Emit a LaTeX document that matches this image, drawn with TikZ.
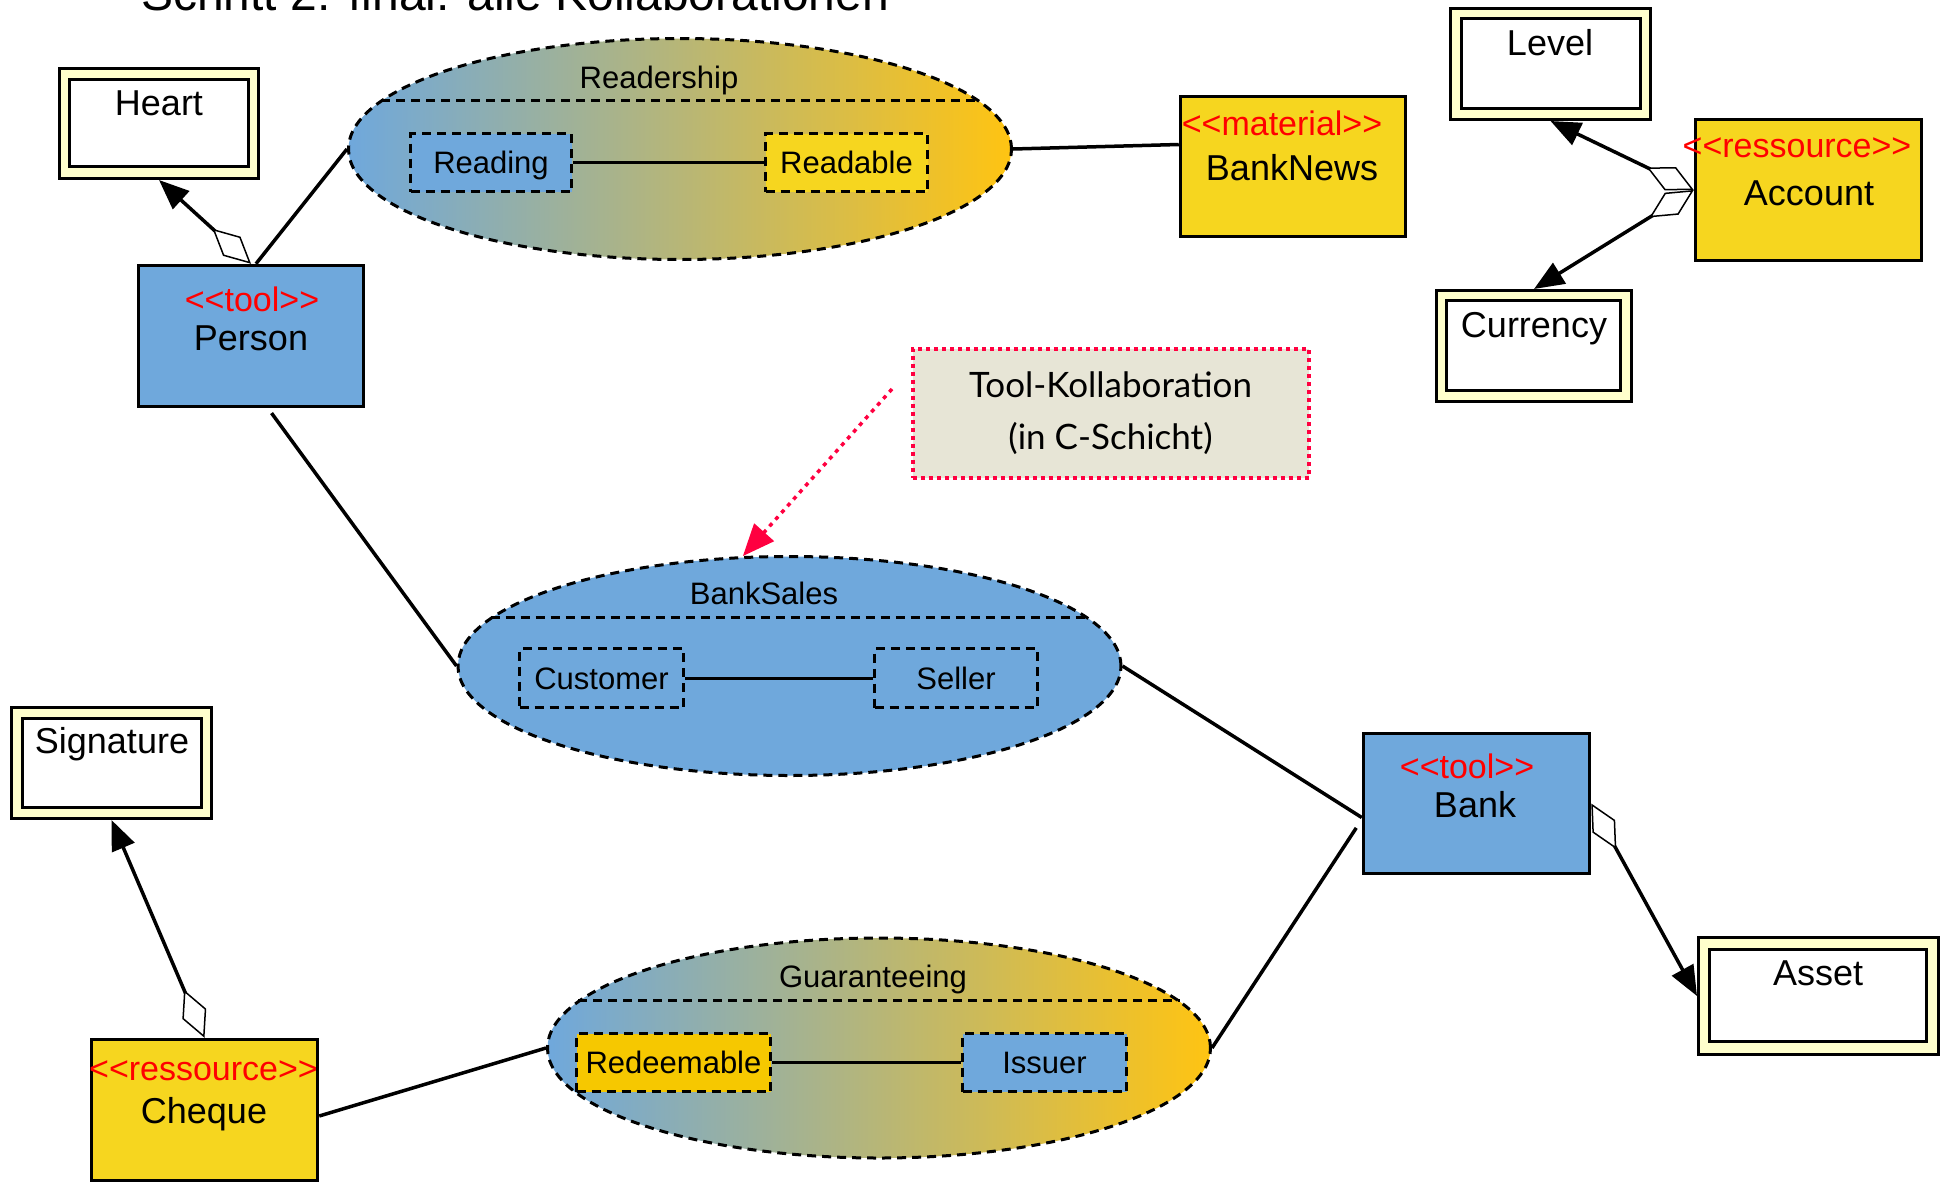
\documentclass[tikz,border=0pt]{standalone}
\usepackage{fontspec}
\setmainfont{Liberation Sans}[Ligatures=TeXOff]
\newfontfamily\notefont{Lato}
\usetikzlibrary{shapes.geometric,arrows.meta,calc}
\definecolor{toolblue}{RGB}{111,168,220}
\definecolor{resyellow}{RGB}{246,214,31}
\definecolor{roleyellow}{RGB}{246,200,0}
\definecolor{gradend}{RGB}{255,196,18}
\definecolor{attrback}{RGB}{255,255,204}
\definecolor{notebg}{RGB}{231,229,214}
\definecolor{notered}{RGB}{255,0,64}
\begin{document}
\begin{tikzpicture}[x=1pt,y=-1pt,
  classbox/.style={draw=black, line width=3.5pt, rectangle, inner sep=0pt},
  toolbox/.style={classbox, fill=toolblue},
  resbox/.style={classbox, fill=resyellow},
  stereo/.style={anchor=base, inner sep=0pt, text=red, font=\fontsize{34pt}{38pt}\selectfont},
  cname/.style={anchor=base, inner sep=0pt, font=\fontsize{36pt}{40pt}\selectfont},
  attrouter/.style={draw=black, line width=3pt, fill=attrback, rectangle, inner sep=0pt},
  attrinner/.style={draw=black, line width=3pt, fill=white, rectangle, inner sep=0pt},
  collab/.style={ellipse, draw=black, line width=3pt, dash pattern=on 9pt off 6pt, inner sep=0pt},
  gradcollab/.style={collab, left color=toolblue, right color=gradend},
  collabname/.style={anchor=base, inner sep=0pt, font=\fontsize{31pt}{35pt}\selectfont},
  role/.style={draw=black, line width=3pt, dash pattern=on 9pt off 6pt, rectangle, inner sep=0pt, text height=22pt, text depth=0pt, font=\fontsize{31pt}{35pt}\selectfont},
  partition/.style={draw=black, line width=3pt, dash pattern=on 9pt off 6pt},
  conn/.style={draw=black, line width=3.5pt},
  agg/.style={conn, {Diamond[length=52pt,width=26pt,fill=white,line width=1.5pt]}-{Triangle[length=30pt,width=24pt]}},
]
\path[use as bounding box] (0,0) rectangle (1949,1192);
\clip (0,0) rectangle (1949,1192);

% title (cut off at top)
\node[anchor=base west, inner sep=0pt, font=\fontsize{48pt}{52pt}\selectfont] (title) at (141,10) {Schritt 2: final: alle Kollaborationen};

% collaboration ellipses
\node[gradcollab, minimum width=663pt, minimum height=221pt] (readership) at (680,149) {};
\draw[partition] ($(readership.center)+(-299,-49)$) -- ++(598,0);
\node[collabname] (readership-nm) at (659,88) {Readership};
\node[role, fill=toolblue, minimum width=161pt, minimum height=58pt] (reading) at (491,162.5) {Reading};
\node[role, fill=resyellow, minimum width=162pt, minimum height=58pt] (readable) at (846.5,162.5) {Readable};
\draw[conn, line width=3pt] (reading.east) -- (readable.west);

\node[collab, fill=toolblue, minimum width=663pt, minimum height=219pt] (banksales) at (789.5,666) {};
\draw[partition] ($(banksales.center)+(-299,-49)$) -- ++(598,0);
\node[collabname] (banksales-nm) at (764,604) {BankSales};
\node[role, minimum width=164pt, minimum height=59pt] (customer) at (601.5,678) {Customer};
\node[role, minimum width=163pt, minimum height=59pt] (seller) at (956,678) {Seller};
\draw[conn, line width=3pt] (customer.east) -- (seller.west);

\node[gradcollab, minimum width=663pt, minimum height=220pt] (guaranteeing) at (879,1048) {};
\draw[partition] ($(guaranteeing.center)+(-301,-48)$) -- ++(602,0);
\node[collabname] (guaranteeing-nm) at (873,987) {Guaranteeing};
\node[role, fill=roleyellow, minimum width=194pt, minimum height=58pt] (redeemable) at (673.5,1062.5) {Redeemable};
\node[role, fill=toolblue, minimum width=164pt, minimum height=58pt] (issuer) at (1044.5,1062.5) {Issuer};
\draw[conn, line width=3pt] (redeemable.east) -- (issuer.west);

% class boxes
\node[toolbox, minimum width=225pt, minimum height=141pt] (person) at (251,336) {};
\node[stereo] (person-st) at (252,311) {<<tool>>};
\node[cname] (person-nm) at (251,350) {Person};

\node[resbox, minimum width=225pt, minimum height=140pt] (banknews) at (1293,166.5) {};
\node[stereo] (banknews-st) at (1282,135) {<<material>>};
\node[cname] (banknews-nm) at (1292,180) {BankNews};

\node[resbox, minimum width=226pt, minimum height=141pt] (account) at (1808.5,190) {};
\node[stereo] (account-st) at (1797,157) {<<ressource>>};
\node[cname] (account-nm) at (1809,205) {Account};

\node[toolbox, minimum width=226pt, minimum height=140pt] (bank) at (1476.5,803.5) {};
\node[stereo] (bank-st) at (1467,778) {<<tool>>};
\node[cname] (bank-nm) at (1475,817) {Bank};

\node[resbox, minimum width=226pt, minimum height=141pt] (cheque) at (204.5,1110) {};
\node[stereo] (cheque-st) at (203.5,1080) {<<ressource>>};
\node[cname] (cheque-nm) at (204,1123) {Cheque};

% attribute boxes
\node[attrouter, minimum width=199pt, minimum height=110pt] (heart) at (159,123.5) {};
\node[attrinner, minimum width=179pt, minimum height=87pt] (heart-in) at (159,123) {};
\node[cname] (heart-nm) at (159,115) {Heart};

\node[attrouter, minimum width=200pt, minimum height=111pt] (level) at (1550.5,64) {};
\node[attrinner, minimum width=179pt, minimum height=90pt] (level-in) at (1551,63.5) {};
\node[cname] (level-nm) at (1550,55) {Level};

\node[attrouter, minimum width=195pt, minimum height=111pt] (currency) at (1534,346) {};
\node[attrinner, minimum width=174pt, minimum height=90pt] (currency-in) at (1533.5,345.5) {};
\node[cname] (currency-nm) at (1534,337) {Currency};

\node[attrouter, minimum width=200pt, minimum height=111pt] (signature) at (111.5,763) {};
\node[attrinner, minimum width=179pt, minimum height=89pt] (signature-in) at (112,763) {};
\node[cname] (signature-nm) at (112,753) {Signature};

\node[attrouter, minimum width=240pt, minimum height=117pt] (asset) at (1818.5,996) {};
\node[attrinner, minimum width=217pt, minimum height=92pt] (asset-in) at (1818,995.5) {};
\node[cname] (asset-nm) at (1818,985) {Asset};

% note
\node[draw=notered, line width=4pt, dash pattern=on 4pt off 4pt, fill=notebg,
      minimum width=396pt, minimum height=129pt, align=center,
      font=\notefont\fontsize{35pt}{52pt}\selectfont] (note) at (1110.5,413) {Tool-Kollaboration\\(in C-Schicht)};
\coordinate (notestart) at (892,389);
\draw[notered, line width=3.5pt, dash pattern=on 4pt off 5pt, -{Triangle[length=32pt,width=26pt]}] (notestart) -- (banksales.113);

% connectors
\draw[conn] ([xshift=5pt]person.north) -- (readership.west);
\draw[conn, shorten <=6pt] ([xshift=17pt]person.south) -- (banksales.west);
\draw[conn] (readership.east) -- ([yshift=22pt]banknews.west);
\draw[conn] (banksales.east) -- ([yshift=-14pt]bank.west);
\draw[conn, shorten >=10pt] (guaranteeing.east) -- ([yshift=-16pt]bank.west);
\draw[conn] ([yshift=-6pt]cheque.east) -- (guaranteeing.west);

% aggregations
\draw[agg] (person.north) -- (heart.south);
\draw[agg] (account.west) -- (level.south);
\draw[agg] (account.west) -- (currency.north);
\draw[agg] (cheque.north) -- (signature.south);
\draw[agg] (bank.east) -- (asset.west);
\end{tikzpicture}
\end{document}
